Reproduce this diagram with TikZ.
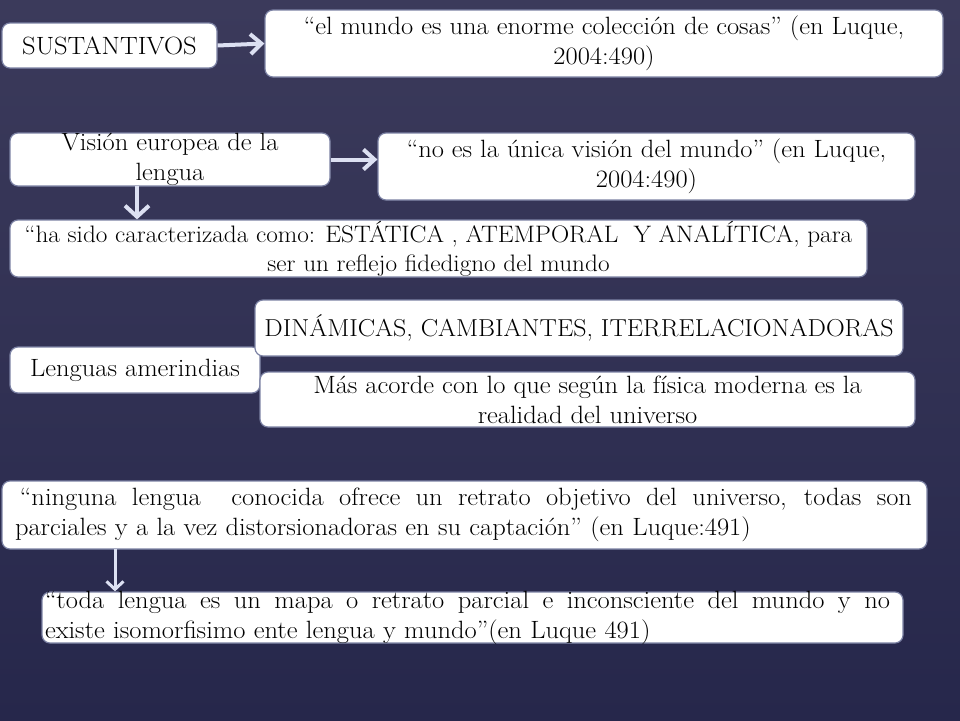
\documentclass[tikz,border=0pt]{standalone}
\usepackage{fontspec}
\setmainfont{Latin Modern Roman}[FakeStretch=1.06]
\usetikzlibrary{arrows.meta}
\definecolor{bgtop}{HTML}{3B3A5B}
\definecolor{bgbot}{HTML}{26274B}
\definecolor{boxline}{HTML}{7C82A4}
\definecolor{arrowc}{HTML}{DCE0F2}
\newcommand\stretchsp{\spaceskip=8pt plus 20pt\relax}
\tikzset{
  box/.style={draw=boxline, line width=1.2pt, fill=white, rounded corners=8pt, inner sep=0pt},
  txt/.style={inner sep=0pt, font=\fontsize{25}{30}\selectfont, text=black},
  conn/.style={draw=arrowc, line width=4pt, -{Straight Barb[length=11pt,width=20pt]}},
  connthin/.style={draw=arrowc, line width=3pt, -{Straight Barb[length=8pt,width=17pt]}},
}
\begin{document}
\begin{tikzpicture}[x=1pt,y=-1pt]
\useasboundingbox (0,0) rectangle (960,720);
\shade[top color=bgtop, bottom color=bgbot, middle color=bgtop!55!bgbot] (0,0) rectangle (960,720);

% boxes
\node[box, minimum width=215pt, minimum height=45pt] (b1) at (109.5,45.5) {};
\node[box, minimum width=678pt, minimum height=67pt] (b2) at (604,43.5) {};
\node[box, minimum width=320pt, minimum height=53pt] (b3) at (170,159.5) {};
\node[box, minimum width=537pt, minimum height=67pt] (b4) at (646.5,166.5) {};
\node[box, minimum width=857pt, minimum height=57pt] (b5) at (438.5,248.5) {};
\node[box, minimum width=250pt, minimum height=46pt] (b7) at (135,370) {};
\node[box, minimum width=648pt, minimum height=56pt] (b6) at (579,328) {};
\node[box, minimum width=655pt, minimum height=55pt] (b8) at (587.5,399.5) {};
\node[box, minimum width=925pt, minimum height=68pt] (b9) at (464.5,515) {};
\node[box, minimum width=861pt, minimum height=51pt] (b10) at (472.5,617.5) {};

% texts
\node[txt] (t1) at (b1) {SUSTANTIVOS};
\node[txt, align=center] (t2) at (b2) {“el mundo es una enorme colección de cosas” (en Luque,\\2004:490)};
\node[txt, align=center] (t3) at (b3) {Visión europea de la\\lengua};
\node[txt, align=center] (t4) at (b4) {“no es la única visión del mundo” (en Luque,\\2004:490)};
\node[txt, align=center, font=\fontsize{23.8}{29}\selectfont] (t5) at (b5) {“ha sido caracterizada como: ESTÁTICA , ATEMPORAL\ \ Y ANALÍTICA, para\\ser un reflejo fidedigno del mundo};
\node[txt, font=\fontsize{24.5}{30}\selectfont] (t6) at (b6) {DINÁMICAS, CAMBIANTES, ITERRELACIONADORAS};
\node[txt] (t7) at (b7) {Lenguas amerindias};
\node[txt, align=center] (t8) at (b8) {Más acorde con lo que según la física moderna es la\\realidad del universo};
\node[txt, text width=897pt, align=left] (t9) at (463.5,515) {\hbox to 897pt{\stretchsp\hspace*{5pt}“ninguna lengua\ \ conocida ofrece un retrato objetivo del universo, todas son}\\parciales y a la vez distorsionadoras en su captación” (en Luque:491)};
\node[txt, text width=845pt, align=left] (t10) at (467.5,617.5) {\hbox to 845pt{\stretchsp “toda lengua es un mapa o retrato parcial e inconsciente del mundo y no}\\existe isomorfisimo ente lengua y mundo”(en Luque 491)};

% connectors
\draw[conn] (b1.east) -- (b2.west);
\draw[conn] (b3.east) -- (b4.west |- b3.east);
\coordinate (d1) at (137,186);
\draw[conn, -{Straight Barb[length=11pt,width=24pt]}] (d1) -- (d1 |- b5.north);
\coordinate (d2) at (115,549);
\draw[connthin] (d2) -- (d2 |- b10.north);
\end{tikzpicture}
\end{document}
